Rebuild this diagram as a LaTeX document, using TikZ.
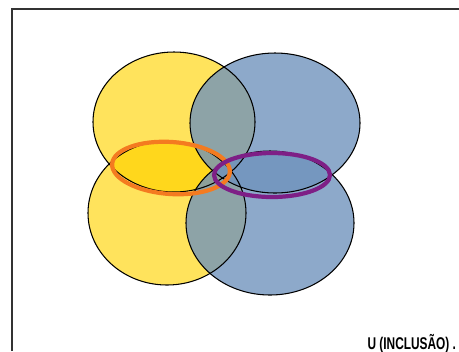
\documentclass[tikz,border=0pt]{standalone}
\usepackage{fontspec}
\usetikzlibrary{positioning}
\newfontfamily\capfont{Liberation Sans}[FakeStretch=0.7]
\definecolor{vnyellow}{HTML}{FFE35C}
\definecolor{vngold}{HTML}{FFD71C}
\definecolor{vnblue}{HTML}{6F92BC}
\definecolor{vnorange}{HTML}{F47B20}
\definecolor{vnpurple}{HTML}{7E1F86}

\begin{document}
\begin{tikzpicture}[x=0.03cm, y=-0.03cm, line width=0.9pt]
    \useasboundingbox (0,0) rectangle (459,351);
    \draw[line width=1.1pt, black!80] (12,351) -- (12,9) -- (459,9);
    % yellow sets
    \fill[vnyellow] (174,122) ellipse[x radius=81, y radius=70];
    \fill[vnyellow] (167,213) ellipse[x radius=79, y radius=72];
    \begin{scope}
      \clip (174,122) ellipse[x radius=81, y radius=70];
      \fill[vngold] (167,213) ellipse[x radius=79, y radius=72];
    \end{scope}
    % blue sets
    \fill[vnblue, fill opacity=0.79] (275,123) ellipse[x radius=85, y radius=70];
    \fill[vnblue, fill opacity=0.79] (270,223) ellipse[x radius=84, y radius=72];
    \draw (174,122) ellipse[x radius=81, y radius=70];
    \draw (167,213) ellipse[x radius=79, y radius=72];
    \draw (275,123) ellipse[x radius=85, y radius=70];
    \draw (270,223) ellipse[x radius=84, y radius=72];
    % the two rings
    \draw[vnorange, line width=3.6pt, rotate around={-4:(171,168)}] (171,168) ellipse[x radius=59, y radius=26];
    \draw[vnpurple, line width=3.6pt] (272,175) ellipse[x radius=58, y radius=22];
    \node[anchor=base west, inner sep=0pt, font=\capfont\fontsize{14.5}{16}\selectfont\bfseries] (lbl) at (367,349) {U (INCLUSÃO) .};
\end{tikzpicture}
\end{document}
